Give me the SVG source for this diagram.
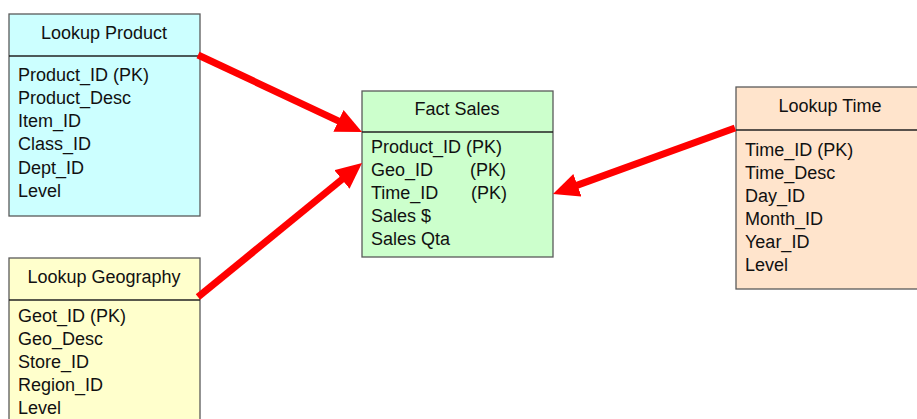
<svg xmlns="http://www.w3.org/2000/svg" width="917" height="419" viewBox="0 0 917 419">
<style>
.box{stroke:#5a5a5a;stroke-width:1.3}
.hdr{stroke:#222;stroke-width:1.5}
text{font-family:"Liberation Sans",Arial,sans-serif;font-size:18px;fill:#111}
.t{text-anchor:middle}
.conn{stroke:#ff0000;stroke-width:7;fill:none}
</style>
<defs>
<marker id="ah" markerUnits="userSpaceOnUse" markerWidth="28" markerHeight="26" viewBox="0 0 28 26" refX="8" refY="12" orient="auto">
<path d="M0,0 L26,12 L0,24 z" fill="#ff0000"/>
</marker>
</defs>
<rect width="917" height="419" fill="#fff"/>
<g id="lookup-product">
<rect class="box" x="9" y="14" width="191" height="202" fill="#ccffff"/>
<line class="hdr" x1="9" y1="56" x2="200" y2="56"/>
<text class="t" x="104" y="39">Lookup Product</text>
<text x="18" y="81">Product_ID (PK)</text>
<text x="18" y="104">Product_Desc</text>
<text x="18" y="127">Item_ID</text>
<text x="18" y="150">Class_ID</text>
<text x="18" y="174">Dept_ID</text>
<text x="18" y="197">Level</text>
</g>
<g id="lookup-geography">
<rect class="box" x="9" y="258" width="191" height="180" fill="#ffffcc"/>
<line class="hdr" x1="9" y1="300" x2="200" y2="300"/>
<text class="t" x="104" y="283">Lookup Geography</text>
<text x="18" y="322">Geot_ID (PK)</text>
<text x="18" y="345">Geo_Desc</text>
<text x="18" y="368">Store_ID</text>
<text x="18" y="391">Region_ID</text>
<text x="18" y="414">Level</text>
</g>
<g id="fact-sales">
<rect class="box" x="362" y="91" width="191" height="166" fill="#ccffcc"/>
<line class="hdr" x1="362" y1="132" x2="553" y2="132"/>
<text class="t" x="457" y="115">Fact Sales</text>
<text x="371" y="153">Product_ID (PK)</text>
<text x="371" y="176">Geo_ID</text><text x="470" y="176">(PK)</text>
<text x="371" y="199">Time_ID</text><text x="471" y="199">(PK)</text>
<text x="371" y="222">Sales $</text>
<text x="371" y="245">Sales Qta</text>
</g>
<g id="lookup-time">
<rect class="box" x="736" y="87" width="195" height="202" fill="#ffe4cc"/>
<line class="hdr" x1="736" y1="130" x2="931" y2="130"/>
<text class="t" x="830" y="112">Lookup Time</text>
<text x="745" y="156">Time_ID (PK)</text>
<text x="745" y="179">Time_Desc</text>
<text x="745" y="202">Day_ID</text>
<text x="745" y="225">Month_ID</text>
<text x="745" y="248">Year_ID</text>
<text x="745" y="271">Level</text>
</g>
<g id="connectors">
<line class="conn" x1="198" y1="55" x2="345.7" y2="124.3" marker-end="url(#ah)"/>
<line class="conn" x1="198" y1="297" x2="348.1" y2="174.4" marker-end="url(#ah)"/>
<line class="conn" x1="735" y1="128" x2="569.9" y2="187.9" marker-end="url(#ah)"/>
</g>
</svg>
